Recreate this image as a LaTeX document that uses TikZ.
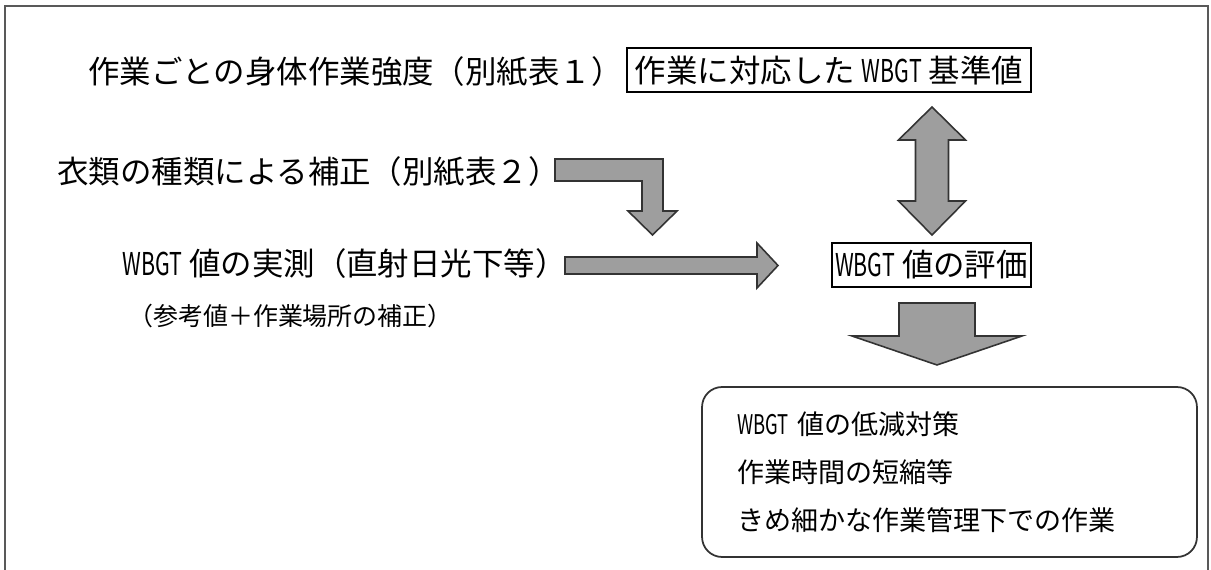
\documentclass[tikz,border=0pt]{standalone}
\usepackage{graphicx}
\usepackage{fontspec}
\setmainfont{Noto Sans CJK JP}
\usepackage{tikz}
\usetikzlibrary{positioning,calc}
\newcommand{\wbgt}{\scalebox{0.68}[1]{WBGT}}

\begin{document}
\begin{tikzpicture}[
    x=0.02cm, y=-0.02cm,
    txt/.style={anchor=west, inner sep=0pt, font=\fontsize{17.9pt}{20pt}\selectfont},
    small/.style={anchor=west, inner sep=0pt, font=\fontsize{14.2pt}{17pt}\selectfont},
    valbox/.style={rectangle, draw, line width=0.8pt, inner sep=0pt, minimum height=0.88cm, font=\fontsize{17.9pt}{20pt}\selectfont},
    roundbox/.style={rectangle, draw=black!80, line width=1pt, rounded corners=0.4cm, align=left, font=\fontsize{15.4pt}{27.3pt}\selectfont},
    fatarrow/.style={fill=black!38, draw=black!80, line width=0.9pt, line join=miter},
    frame/.style={draw=black!65, line width=1.4pt}
]
    \useasboundingbox (0,0) rectangle (1211,570);

    % outer frame (open at the bottom)
    \draw[frame] (5,570) -- (5,6) -- (1208,6) -- (1208,570);

    % left column
    \node[txt] (work) at (88,72) {作業ごとの身体作業強度（別紙表１）};
    \node[txt] (clothes) at (57,172) {衣類の種類による補正（別紙表２）};
    \node[txt] (meas) at (122,264) {\wbgt{} 値の実測（直射日光下等）};
    \node[small] (ref) at (128,316) {（参考値＋作業場所の補正）};

    % right column
    \node[valbox, minimum width=8.08cm] (std) at (829,70) {作業に対応した \wbgt{} 基準値};
    \node[valbox, minimum width=3.98cm] (eval) at (931.5,265) {\wbgt{} 値の評価};
    \node[roundbox, text width=8.5cm, inner xsep=0.7cm, minimum height=3.4cm] (act) at (949.5,472)
        {\wbgt{} 値の低減対策\\作業時間の短縮等\\きめ細かな作業管理下での作業};

    % arrow ends
    \coordinate (bend) at (555,170);
    \coordinate (hstart) at (565,265.5);
    \coordinate (dtop) at (932,107);
    \coordinate (down) at (937,303);

    % clothes -> measurement (bent arrow)
    \draw[fatarrow] (bend) ++(0,-11) -- ++(108,0) -- ++(0,52) -- ++(14,0) -- ++(-24.5,24)
        -- ++(-24.5,-24) -- ++(14,0) -- ++(0,-30) -- ++(-87,0) -- cycle;
    % measurement -> evaluation
    \draw[fatarrow] (hstart) ++(0,-8.5) -- ++(192,0) -- ++(0,-14) -- ++(21,22.5) -- ++(-21,22.5)
        -- ++(0,-14) -- ++(-192,0) -- cycle;
    % standard <-> evaluation
    \draw[fatarrow] (dtop) -- ++(33.5,33) -- ++(-17,0) -- ++(0,61) -- ++(17,0) -- ++(-33.5,34)
        -- ++(-33.5,-34) -- ++(17,0) -- ++(0,-61) -- ++(-17,0) -- cycle;
    % evaluation -> measures
    \draw[fatarrow] (down) ++(-38,0) -- ++(76,0) -- ++(0,33) -- ++(47,0) -- ++(-85,29)
        -- ++(-85,-29) -- ++(47,0) -- cycle;
\end{tikzpicture}
\end{document}
